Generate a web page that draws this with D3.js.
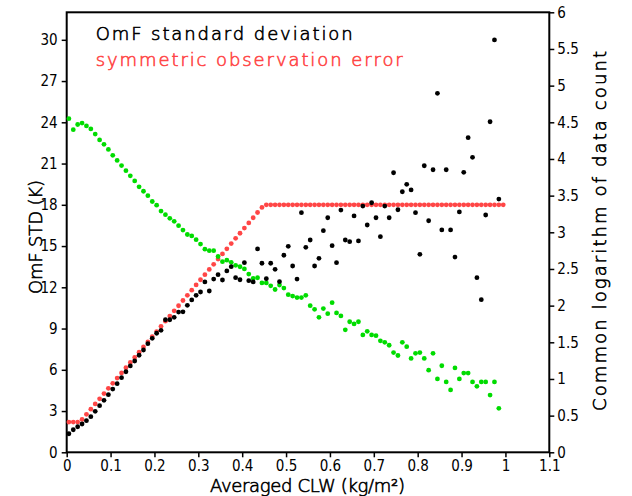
<!DOCTYPE html>
<html>
<head>
<meta charset="utf-8">
<script src="https://cdn.jsdelivr.net/npm/d3@7"></script>
<style>
  body { margin: 0; background: #fff; }
  text { font-family: "Liberation Sans Narrow", "DejaVu Sans Condensed", "Liberation Sans", sans-serif; }
  .big { font-family: "DejaVu Sans", sans-serif; font-weight: 300; stroke-width: 0.6px; }
</style>
</head>
<body>
<svg id="chart" width="632" height="496"></svg>
<script>
// Bin centres of averaged CLW (kg/m2)
const clwBins = [
  0.005, 0.015, 0.025, 0.035, 0.045, 0.055, 0.065, 0.075, 0.085, 0.095,
  0.105, 0.115, 0.125, 0.135, 0.145, 0.155, 0.165, 0.175, 0.185, 0.195,
  0.205, 0.215, 0.225, 0.235, 0.245, 0.255, 0.265, 0.275, 0.285, 0.295,
  0.305, 0.315, 0.325, 0.335, 0.345, 0.355, 0.365, 0.375, 0.385, 0.395,
  0.405, 0.415, 0.425, 0.435, 0.445, 0.455, 0.465, 0.475, 0.485, 0.495,
  0.505, 0.515, 0.525, 0.535, 0.545, 0.555, 0.565, 0.575, 0.585, 0.595,
  0.605, 0.615, 0.625, 0.635, 0.645, 0.655, 0.665, 0.675, 0.685, 0.695,
  0.705, 0.715, 0.725, 0.735, 0.745, 0.755, 0.765, 0.775, 0.785, 0.795,
  0.805, 0.815, 0.825, 0.835, 0.845, 0.855, 0.865, 0.875, 0.885, 0.895,
  0.905, 0.915, 0.925, 0.935, 0.945, 0.955, 0.965, 0.975, 0.985, 0.995
];

// OmF standard deviation (K), black dots
const omfStd = [
  1.35, 1.64, 1.86, 2.06, 2.30, 2.59, 2.98, 3.39, 3.78, 4.19,
  4.60, 4.99, 5.43, 5.86, 6.28, 6.64, 7.06, 7.44, 7.90, 8.29,
  8.66, 8.87, 9.64, 9.64, 9.82, 10.20, 10.22, 10.69, 11.08, 11.42,
  11.66, 12.39, 11.73, 12.60, 12.92, 12.53, 13.19, 13.50, 12.70, 12.55,
  13.79, 12.48, 12.39, 14.79, 13.75, 12.63, 13.75, 13.31, 12.41, 14.33,
  14.98, 13.55, 12.60, 17.43, 14.91, 15.44, 13.55, 14.11, 16.12, 17.06,
  15.03, 13.79, 17.62, 15.44, 15.32, 17.19, 15.37, 17.91, 16.53, 18.15,
  17.06, 15.68, 17.91, 17.06, 20.33, 17.64, 18.95, 19.49, 19.08, 17.43,
  14.40, 20.84, 16.84, 20.55, 26.11, 16.17, 20.55, 16.17, 14.20, 17.48,
  20.36, 22.88, 21.45, 12.70, 11.10, 17.26, 24.04, 29.99, 18.42
];

// symmetric observation error (K), red dots
const symError = [
  2.20, 2.20, 2.20, 2.39, 2.76, 3.14, 3.52, 3.89, 4.27, 4.65,
  5.02, 5.40, 5.77, 6.15, 6.53, 6.90, 7.28, 7.66, 8.03, 8.41,
  8.78, 9.16, 9.54, 9.91, 10.29, 10.66, 11.04, 11.42, 11.79, 12.17,
  12.55, 12.92, 13.30, 13.67, 14.05, 14.43, 14.80, 15.18, 15.56, 15.93,
  16.31, 16.68, 17.06, 17.44, 17.81, 18.00, 18.00, 18.00, 18.00, 18.00,
  18.00, 18.00, 18.00, 18.00, 18.00, 18.00, 18.00, 18.00, 18.00, 18.00,
  18.00, 18.00, 18.00, 18.00, 18.00, 18.00, 18.00, 18.00, 18.00, 18.00,
  18.00, 18.00, 18.00, 18.00, 18.00, 18.00, 18.00, 18.00, 18.00, 18.00,
  18.00, 18.00, 18.00, 18.00, 18.00, 18.00, 18.00, 18.00, 18.00, 18.00,
  18.00, 18.00, 18.00, 18.00, 18.00, 18.00, 18.00, 18.00, 18.00, 18.00
];

// common logarithm of data count, green dots (right axis)
const logCount = [
  4.55, 4.40, 4.47, 4.49, 4.45, 4.41, 4.34, 4.26, 4.20, 4.13,
  4.05, 3.98, 3.91, 3.84, 3.77, 3.70, 3.62, 3.56, 3.50, 3.42,
  3.37, 3.29, 3.24, 3.19, 3.15, 3.09, 3.03, 2.97, 2.95, 2.90,
  2.84, 2.77, 2.75, 2.75, 2.67, 2.60, 2.62, 2.59, 2.55, 2.53,
  2.50, 2.43, 2.37, 2.38, 2.31, 2.31, 2.27, 2.22, 2.28, 2.24,
  2.15, 2.13, 2.11, 2.11, 2.14, 2.00, 1.95, 1.84, 1.96, 1.89,
  2.04, 1.90, 1.86, 1.67, 1.78, 1.75, 1.78, 1.60, 1.65, 1.60,
  1.59, 1.52, 1.50, 1.46, 1.36, 1.32, 1.50, 1.44, 1.28, 1.35,
  1.36, 1.28, 1.12, 1.35, 1.00, 1.18, 0.96, 0.85, 1.15, 1.00,
  1.08, 1.08, 0.96, 0.90, 0.96, 0.96, 0.78, 0.96, 0.60
];

// tick values
const xTicks = [0, 0.1, 0.2, 0.3, 0.4, 0.5, 0.6, 0.7, 0.8, 0.9, 1, 1.1];
const yLeftTicks = [0, 3, 6, 9, 12, 15, 18, 21, 24, 27, 30];
const yRightTicks = [0, 0.5, 1, 1.5, 2, 2.5, 3, 3.5, 4, 4.5, 5, 5.5, 6];

const svg = d3.select('#chart');

// plot area
const plotLeft = 66.7, plotRight = 549.3, plotTop = 12.3, plotBottom = 452.3;

const x = d3.scaleLinear().domain([0, 1.1]).range([plotLeft, plotRight]);
const yLeft = d3.scaleLinear().domain([0, 32]).range([plotBottom, plotTop]);
const yRight = d3.scaleLinear().domain([0, 6]).range([plotBottom, plotTop]);

// axes
const xAxis = svg.append('g')
  .attr('transform', `translate(0,${plotBottom})`)
  .call(d3.axisBottom(x).tickValues(xTicks).tickSize(5).tickPadding(3).tickFormat(d3.format('~g')));

const leftAxis = svg.append('g')
  .attr('transform', `translate(${plotLeft},0)`)
  .call(d3.axisLeft(yLeft).tickValues(yLeftTicks).tickSize(5).tickPadding(4));

const rightAxis = svg.append('g')
  .attr('transform', `translate(${plotRight},0)`)
  .call(d3.axisRight(yRight).tickValues(yRightTicks).tickSize(5).tickPadding(3).tickFormat(d3.format('~g')));

[xAxis, leftAxis, rightAxis].forEach(g => {
  g.select('.domain').remove();
  g.selectAll('.tick line').attr('stroke', '#000').attr('stroke-width', 1.5);
  g.selectAll('.tick text')
    .attr('fill', '#000')
    .style('font-size', '15px');
});

// frame
svg.append('rect')
  .attr('x', plotLeft)
  .attr('y', plotTop)
  .attr('width', plotRight - plotLeft)
  .attr('height', plotBottom - plotTop)
  .attr('fill', 'none')
  .attr('stroke', '#000')
  .attr('stroke-width', 2);

// dots
function addDots(values, yScale, color) {
  svg.append('g')
    .selectAll('circle')
    .data(values)
    .join('circle')
    .attr('cx', (d, i) => x(clwBins[i]))
    .attr('cy', d => yScale(d))
    .attr('r', 2.4)
    .attr('fill', color);
}

addDots(symError, yLeft, '#ff4646');
addDots(logCount, yRight, '#00dc00');
addDots(omfStd, yLeft, '#000');

// titles and legend text, thin strokes like the original
function addText(str, opts) {
  const t = svg.append('text')
    .attr('class', 'big')
    .attr('textLength', opts.len)
    .attr('lengthAdjust', 'spacing')
    .style('font-size', '18px')
    .attr('fill', opts.color || '#000')
    .attr('stroke', opts.color || '#000')
    .text(str);
  if (opts.rotate) {
    t.attr('transform', `translate(${opts.x},${opts.y}) rotate(-90)`);
  } else {
    t.attr('x', opts.x).attr('y', opts.y);
  }
}

addText('OmF standard deviation', { x: 95.7, y: 40, len: 257 });
addText('symmetric observation error', { x: 95.7, y: 66, len: 307, color: '#ff4646' });
addText('Averaged CLW (kg/m²)', { x: 210, y: 492, len: 195 });
addText('OmF STD (K)', { x: 42, y: 294, len: 114, rotate: true });
addText('Common logarithm of data count', { x: 606, y: 411, len: 360, rotate: true });
</script>
</body>
</html>
